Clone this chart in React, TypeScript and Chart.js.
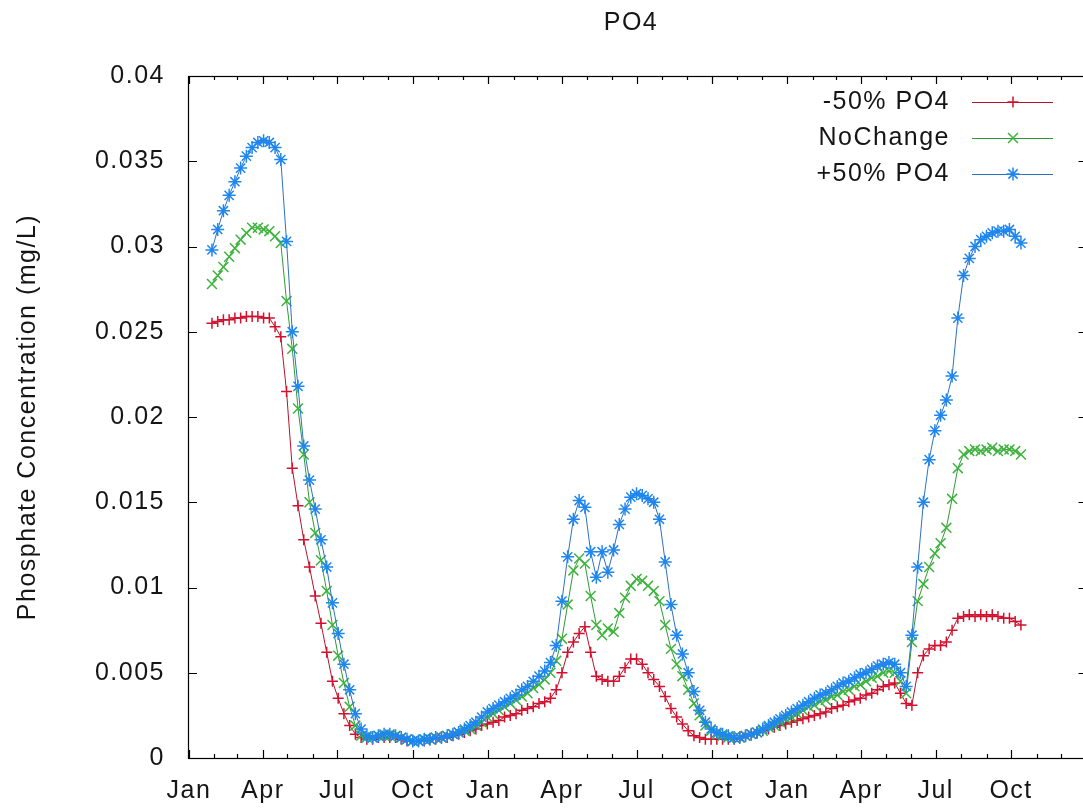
import React, { useEffect, useRef } from "react";
import { Chart, registerables } from "chart.js";

Chart.register(...registerables);

const titleText = "PO4";
const yAxisTitle = "Phosphate Concentration (mg/L)";
const seriesNames = ["-50% PO4", "NoChange", "+50% PO4"];

// sampling: weekly values, first sample 28 days after 1 Jan of the first year
const firstSampleDay = 28;
const sampleStepDays = 7;
const yearsShown = 3;

const yTickValues = [0, 0.005, 0.01, 0.015, 0.02, 0.025, 0.03, 0.035, 0.04];
const yTickLabels = ["0", "0.005", "0.01", "0.015", "0.02", "0.025", "0.03", "0.035", "0.04"];
const xTickLabels = ["Jan", "Apr", "Jul", "Oct", "Jan", "Apr", "Jul", "Oct", "Jan", "Apr", "Jul", "Oct"];

const minus50 = [
  0.0255, 0.0256, 0.0257, 0.0257, 0.0258, 0.0258, 0.0259, 0.0259, 0.0259, 0.0258,
  0.0258, 0.0253, 0.0247, 0.0215, 0.0170, 0.0148, 0.0128, 0.0112, 0.0095, 0.0079,
  0.0062, 0.0045, 0.0035, 0.0026, 0.0019, 0.0014, 0.0012, 0.0011, 0.0011, 0.0012,
  0.0012, 0.0012, 0.0012, 0.0011, 0.0010, 0.0010, 0.0010, 0.0010, 0.0011, 0.0011,
  0.0012, 0.0012, 0.0013, 0.0014, 0.0015, 0.0016, 0.0017, 0.0019, 0.0020, 0.0021,
  0.0022, 0.0024, 0.0025, 0.0026, 0.0028, 0.0029, 0.0030, 0.0032, 0.0033, 0.0035,
  0.0040, 0.0050, 0.0062, 0.0068, 0.0073, 0.0077, 0.0062, 0.0048, 0.0046, 0.0045,
  0.0045, 0.0048, 0.0053, 0.0058, 0.0058, 0.0055, 0.0050, 0.0046, 0.0042, 0.0036,
  0.0029, 0.0024, 0.0020, 0.0016, 0.0013, 0.0012, 0.0011, 0.0011, 0.0011, 0.0011,
  0.0011, 0.0011, 0.0012, 0.0013, 0.0014, 0.0015, 0.0016, 0.0017, 0.0018, 0.0019,
  0.0020, 0.0021, 0.0022, 0.0023, 0.0024, 0.0025, 0.0026, 0.0027, 0.0029, 0.0030,
  0.0031, 0.0033, 0.0034, 0.0035, 0.0037, 0.0038, 0.0040, 0.0042, 0.0043, 0.0044,
  0.0038, 0.0032, 0.0031, 0.0050, 0.0060, 0.0064, 0.0066, 0.0066, 0.0068, 0.0075,
  0.0082, 0.0083, 0.0084, 0.0083, 0.0084, 0.0083, 0.0084, 0.0083, 0.0082, 0.0082,
  0.0080, 0.0078,
];

const noChange = [
  0.0278, 0.0283, 0.0288, 0.0294, 0.0299, 0.0304, 0.0308, 0.0311, 0.0311, 0.0310,
  0.0309, 0.0306, 0.0302, 0.0268, 0.0240, 0.0205, 0.0178, 0.0150, 0.0132, 0.0116,
  0.0098, 0.0078, 0.0060, 0.0044, 0.0030, 0.0019, 0.0013, 0.0012, 0.0012, 0.0013,
  0.0013, 0.0013, 0.0013, 0.0012, 0.0011, 0.0010, 0.0010, 0.0011, 0.0011, 0.0012,
  0.0012, 0.0013, 0.0014, 0.0015, 0.0016, 0.0017, 0.0019, 0.0021, 0.0024, 0.0026,
  0.0028, 0.0030, 0.0032, 0.0034, 0.0036, 0.0038, 0.0041, 0.0043, 0.0046, 0.0050,
  0.0057, 0.0070, 0.0090, 0.0110, 0.0117, 0.0114, 0.0095, 0.0078, 0.0072, 0.0076,
  0.0074, 0.0085, 0.0094, 0.0101, 0.0105, 0.0104, 0.0101, 0.0098, 0.0092, 0.0078,
  0.0064, 0.0055, 0.0048, 0.0040, 0.0032, 0.0025, 0.0019, 0.0016, 0.0014, 0.0013,
  0.0012, 0.0012, 0.0012, 0.0013, 0.0014, 0.0015, 0.0016, 0.0018, 0.0019, 0.0021,
  0.0023, 0.0024, 0.0026, 0.0028, 0.0030, 0.0031, 0.0033, 0.0034, 0.0036, 0.0037,
  0.0039, 0.0040, 0.0042, 0.0043, 0.0045, 0.0047, 0.0048, 0.0050, 0.0051, 0.0050,
  0.0045, 0.0038, 0.0068, 0.0092, 0.0102, 0.0112, 0.0120, 0.0126, 0.0135, 0.0152,
  0.0170, 0.0178, 0.0180, 0.0181, 0.0180, 0.0181, 0.0182, 0.0180, 0.0181, 0.0181,
  0.0180, 0.0178,
];

const plus50 = [
  0.0298, 0.0310, 0.0321, 0.0330, 0.0338, 0.0346, 0.0353, 0.0358, 0.0361, 0.0362,
  0.0361, 0.0358, 0.0351, 0.0303, 0.0250, 0.0218, 0.0183, 0.0163, 0.0146, 0.0128,
  0.0112, 0.0091, 0.0073, 0.0055, 0.0040, 0.0026, 0.0017, 0.0013, 0.0012, 0.0013,
  0.0014, 0.0014, 0.0013, 0.0012, 0.0011, 0.0010, 0.0010, 0.0011, 0.0011, 0.0012,
  0.0012, 0.0013, 0.0014, 0.0015, 0.0017, 0.0019, 0.0021, 0.0024, 0.0027, 0.0029,
  0.0031, 0.0033, 0.0035, 0.0037, 0.0040, 0.0042, 0.0045, 0.0048, 0.0051, 0.0056,
  0.0066, 0.0092, 0.0118, 0.0140, 0.0151, 0.0147, 0.0121, 0.0106, 0.0121, 0.0109,
  0.0122, 0.0137, 0.0146, 0.0153, 0.0155, 0.0154, 0.0152, 0.0150, 0.0140, 0.0115,
  0.0090, 0.0072, 0.0061, 0.0050, 0.0039, 0.0028, 0.0021, 0.0017, 0.0015, 0.0014,
  0.0013, 0.0012, 0.0012, 0.0013, 0.0014, 0.0015, 0.0017, 0.0019, 0.0021, 0.0023,
  0.0025, 0.0027, 0.0029, 0.0031, 0.0033, 0.0035, 0.0037, 0.0038, 0.0040, 0.0042,
  0.0044, 0.0045, 0.0047, 0.0049, 0.0050, 0.0052, 0.0054, 0.0055, 0.0056, 0.0055,
  0.0050, 0.0042, 0.0072, 0.0112, 0.0150, 0.0175, 0.0192, 0.0201, 0.0210, 0.0224,
  0.0258, 0.0283, 0.0293, 0.0300, 0.0304, 0.0306, 0.0308, 0.0309, 0.0309, 0.0310,
  0.0306, 0.0302,
];

const FONT = '"Liberation Sans", Arial, Helvetica, sans-serif';
const FONT_SIZE = 25;
const TEXT_COLOR = "#151515";

const CANVAS_W = 1095;
const CANVAS_H = 809;

// month start days (relative to 1 Jan of first year) for the time axis ticks
function monthStarts(): number[] {
  const base = Date.UTC(2001, 0, 1);
  const out: number[] = [];
  for (let k = 0; k < yearsShown * 12; k++) {
    out.push(Math.round((Date.UTC(2001 + Math.floor(k / 12), k % 12, 1) - base) / 86400000));
  }
  return out;
}
const tickDays = monthStarts();
const tickText = tickDays.map((_, k) => (k % 3 === 0 ? xTickLabels[k / 3] : ""));
const xMaxDay = Math.round((Date.UTC(2001 + yearsShown, 0, 1) - Date.UTC(2001, 0, 1)) / 86400000);

function toPoints(values: number[]) {
  return values.map((v, i) => ({ x: firstSampleDay + i * sampleStepDays, y: v }));
}

function drawMarker(ctx: CanvasRenderingContext2D, style: string, x: number, y: number, r: number) {
  ctx.beginPath();
  if (style === "cross" || style === "star") {
    ctx.moveTo(x - r, y);
    ctx.lineTo(x + r, y);
    ctx.moveTo(x, y - r);
    ctx.lineTo(x, y + r);
  }
  if (style === "crossRot" || style === "star") {
    const o = r * Math.SQRT1_2;
    ctx.moveTo(x - o, y - o);
    ctx.lineTo(x + o, y + o);
    ctx.moveTo(x - o, y + o);
    ctx.lineTo(x + o, y - o);
  }
  ctx.stroke();
}

const textSpacingPlugin = {
  id: "textSpacing",
  beforeDraw(chart: any) {
    chart.ctx.letterSpacing = "1.5px";
  },
};

const framePlugin = {
  id: "gnuplotFrame",
  afterDatasetsDraw(chart: any) {
    const { ctx, chartArea, scales } = chart;
    const { left, right, top, bottom } = chartArea;
    const xs = scales.x;
    const ys = scales.y;
    ctx.save();
    ctx.strokeStyle = "#000";
    ctx.lineWidth = 1.2;
    ctx.strokeRect(left - 0.5, top + 0.5, right - left, bottom - top);
    ctx.lineWidth = 1.2;
    ctx.beginPath();
    tickDays.forEach((d, k) => {
      const px = Math.round(xs.getPixelForValue(d)) + 0.5;
      const len = tickText[k] ? 8 : 4;
      ctx.moveTo(px, bottom);
      ctx.lineTo(px, bottom - len);
      ctx.moveTo(px, top);
      ctx.lineTo(px, top + len);
    });
    yTickValues.forEach((v) => {
      const py = Math.round(ys.getPixelForValue(v)) + 0.5;
      ctx.moveTo(left, py);
      ctx.lineTo(left + 8, py);
      ctx.moveTo(right, py);
      ctx.lineTo(right - 8, py);
    });
    ctx.stroke();
    ctx.restore();
  },
  afterDraw(chart: any) {
    const { ctx } = chart;
    ctx.save();
    ctx.letterSpacing = "1.5px";
    ctx.font = `${FONT_SIZE}px ${FONT}`;
    ctx.fillStyle = TEXT_COLOR;
    // title
    ctx.textAlign = "center";
    ctx.textBaseline = "middle";
    ctx.fillText(titleText, 631, 23);
    // key
    const rowY = [102, 138, 174];
    chart.data.datasets.forEach((ds: any, j: number) => {
      const y = rowY[j];
      ctx.textAlign = "right";
      ctx.fillStyle = TEXT_COLOR;
      ctx.fillText(ds.label, 950, y);
      ctx.strokeStyle = ds.borderColor;
      ctx.lineWidth = 1;
      ctx.beginPath();
      ctx.moveTo(972, y + 0.5);
      ctx.lineTo(1053, y + 0.5);
      ctx.stroke();
      ctx.strokeStyle = ds.pointBorderColor;
      ctx.lineWidth = 1.5;
      drawMarker(ctx, ds.pointStyle, 1013, y, ds.pointRadius);
    });
    ctx.restore();
  },
};

export default function App() {
  const canvasRef = useRef<HTMLCanvasElement | null>(null);

  useEffect(() => {
    const canvas = canvasRef.current;
    if (!canvas) return;
    const chart = new Chart(canvas, {
      type: "line",
      data: {
        datasets: [
          {
            label: seriesNames[0],
            data: toPoints(minus50),
            borderColor: "#b3142c",
            borderWidth: 1,
            pointStyle: "cross",
            pointRadius: 5.5,
            pointBorderColor: "#d4102e",
            pointBackgroundColor: "rgba(0,0,0,0)",
            pointBorderWidth: 1.5,
            fill: false,
            tension: 0,
            order: 2,
          },
          {
            label: seriesNames[1],
            data: toPoints(noChange),
            borderColor: "#2f9a35",
            borderWidth: 1,
            pointStyle: "crossRot",
            pointRadius: 7,
            pointBorderColor: "#3cb43c",
            pointBackgroundColor: "rgba(0,0,0,0)",
            pointBorderWidth: 1.5,
            fill: false,
            tension: 0,
            order: 1,
          },
          {
            label: seriesNames[2],
            data: toPoints(plus50),
            borderColor: "#2c72c4",
            borderWidth: 1,
            pointStyle: "star",
            pointRadius: 6.5,
            pointBorderColor: "#1f86f0",
            pointBackgroundColor: "rgba(0,0,0,0)",
            pointBorderWidth: 1.5,
            fill: false,
            tension: 0,
            order: 0,
          },
        ],
      },
      options: {
        animation: false,
        responsive: false,
        maintainAspectRatio: false,
        devicePixelRatio: 1,
        events: [],
        layout: { padding: { left: 0, right: CANVAS_W - 1088, top: 76, bottom: 0 } },
        plugins: {
          legend: { display: false },
          tooltip: { enabled: false },
          title: { display: false },
        },
        scales: {
          x: {
            type: "linear",
            min: 0,
            max: xMaxDay,
            grid: { display: false, drawTicks: false },
            border: { display: false },
            afterBuildTicks: (scale: any) => {
              scale.ticks = tickDays.map((d) => ({ value: d }));
            },
            afterFit: (scale: any) => {
              scale.height = CANVAS_H - 758;
            },
            ticks: {
              autoSkip: false,
              maxRotation: 0,
              minRotation: 0,
              padding: 18,
              color: TEXT_COLOR,
              font: { family: FONT, size: FONT_SIZE },
              callback: (_v: any, index: number) => tickText[index],
            },
          },
          y: {
            type: "linear",
            min: 0,
            max: 0.04,
            grid: { display: false, drawTicks: false },
            border: { display: false },
            afterBuildTicks: (scale: any) => {
              scale.ticks = yTickValues.map((v) => ({ value: v }));
            },
            afterFit: (scale: any) => {
              scale.width = 189;
            },
            ticks: {
              padding: 24,
              color: TEXT_COLOR,
              font: { family: FONT, size: FONT_SIZE },
              callback: (_v: any, index: number) => yTickLabels[index],
            },
            title: {
              display: true,
              text: yAxisTitle,
              color: TEXT_COLOR,
              font: { family: FONT, size: FONT_SIZE },
              padding: { top: 13, bottom: 0 },
            },
          },
        },
      },
      plugins: [textSpacingPlugin, framePlugin],
    } as any);
    return () => chart.destroy();
  }, []);

  return (
    <div
      style={{
        position: "absolute",
        left: 0,
        top: 0,
        width: 1083,
        height: 809,
        overflow: "hidden",
        background: "#fff",
      }}
    >
      <canvas ref={canvasRef} width={CANVAS_W} height={CANVAS_H} style={{ display: "block" }} />
    </div>
  );
}
